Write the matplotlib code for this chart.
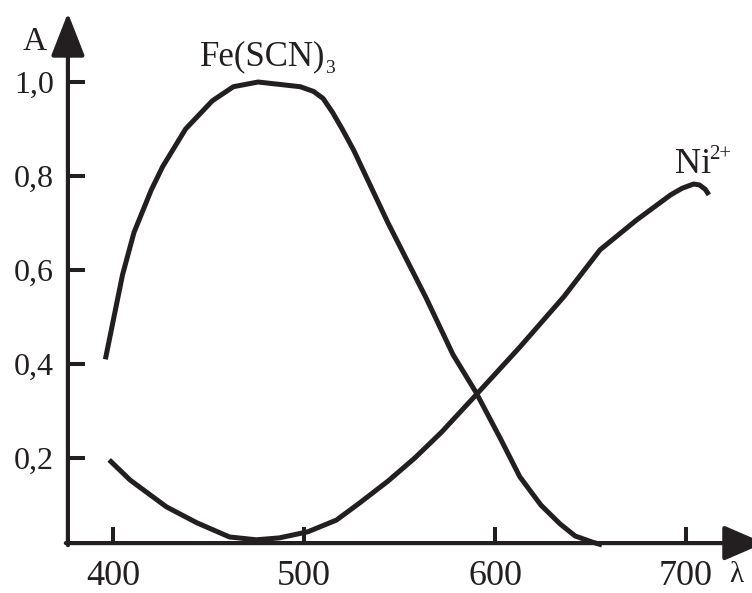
"""Absorption spectra of Fe(SCN)3 and Ni2+ (A against wavelength)."""

import matplotlib
matplotlib.use("Agg")
from matplotlib import pyplot as plt

INK = "#231f20"

# wavelength, nm / absorbance
fe_wavelength = [396, 400, 405, 411, 420, 426, 438, 452, 463, 476, 498, 505,
                 510, 515, 520, 526, 544, 564, 578, 590, 603, 613, 624, 634,
                 642, 651, 656]
fe_absorbance = [0.41, 0.49, 0.59, 0.68, 0.77, 0.82, 0.90, 0.96, 0.99, 1.00,
                 0.99, 0.98, 0.965, 0.935, 0.90, 0.855, 0.70, 0.54, 0.42,
                 0.34, 0.24, 0.16, 0.10, 0.06, 0.034, 0.021, 0.015]

ni_wavelength = [398, 409, 428, 444, 461, 475, 487, 502, 517, 529, 544, 558,
                 572, 590, 613, 636, 655, 674, 692, 698, 704, 707, 710, 712]
ni_absorbance = [0.196, 0.153, 0.096, 0.062, 0.032, 0.026, 0.030, 0.043,
                 0.068, 0.104, 0.151, 0.200, 0.255, 0.334, 0.436, 0.543,
                 0.643, 0.706, 0.760, 0.774, 0.783, 0.781, 0.772, 0.760]

x_ticks = [400, 500, 600, 700]
y_ticks = [0.2, 0.4, 0.6, 0.8, 1.0]
y_tick_labels = ["0,2", "0,4", "0,6", "0,8", "1,0"]

plt.rcParams["font.family"] = ["Liberation Serif", "DejaVu Serif"]

fig = plt.figure(figsize=(7.52, 5.93), dpi=100)
ax = fig.add_axes([0, 0, 1, 1])
ax.set_xlim(340.84, 734.55)
ax.set_ylim(-0.0872, 1.1745)

x0, y0 = 376.4, 0.019   # where the two axes meet

for side in ax.spines.values():
    side.set_visible(False)
ax.spines["left"].set_position(("data", x0))
ax.spines["bottom"].set_position(("data", y0))

ax.annotate("", xy=(x0, 1.147), xytext=(x0, y0 - 0.0045),
            annotation_clip=False,
            arrowprops=dict(arrowstyle="-|>,head_length=2.66,head_width=1.04",
                            lw=3, color=INK, mutation_scale=10,
                            shrinkA=0, shrinkB=0))
ax.annotate("", xy=(741.0, y0), xytext=(x0 - 1.1, y0),
            annotation_clip=False,
            arrowprops=dict(arrowstyle="-|>,head_length=2.5,head_width=1.08",
                            lw=3, color=INK, mutation_scale=10,
                            shrinkA=0, shrinkB=0))

ax.set_xticks(x_ticks)
ax.set_xticklabels([str(t) for t in x_ticks])
ax.set_yticks(y_ticks)
ax.set_yticklabels(y_tick_labels)
ax.tick_params(axis="x", direction="in", length=11.5, width=2.9, color=INK,
               labelsize=26, labelcolor=INK, pad=12)
ax.tick_params(axis="y", direction="in", length=12, width=2.9, color=INK,
               labelsize=23, labelcolor=INK, pad=10)

ax.plot(fe_wavelength, fe_absorbance, color=INK, lw=3.6,
        solid_capstyle="butt", solid_joinstyle="round")
ax.plot(ni_wavelength, ni_absorbance, color=INK, lw=3.6,
        solid_capstyle="butt", solid_joinstyle="round")

ax.text(445.5, 1.036, "Fe(SCN)", fontsize=25, color=INK,
        ha="left", va="baseline")
ax.text(511.0, 1.020, "3", fontsize=14, color=INK, ha="left", va="baseline")
ax.text(694.2, 0.806, "Ni", fontsize=26, color=INK, ha="left", va="baseline")
ax.text(712.0, 0.836, "2+", fontsize=15, color=INK, ha="left", va="baseline")
ax.text(352.9, 1.068, "A", fontsize=24, color=INK, ha="left", va="baseline")
ax.text(722.5, -0.064, "λ", fontsize=21, color=INK, ha="left", va="baseline")

fig.savefig("out.png", dpi=100)
